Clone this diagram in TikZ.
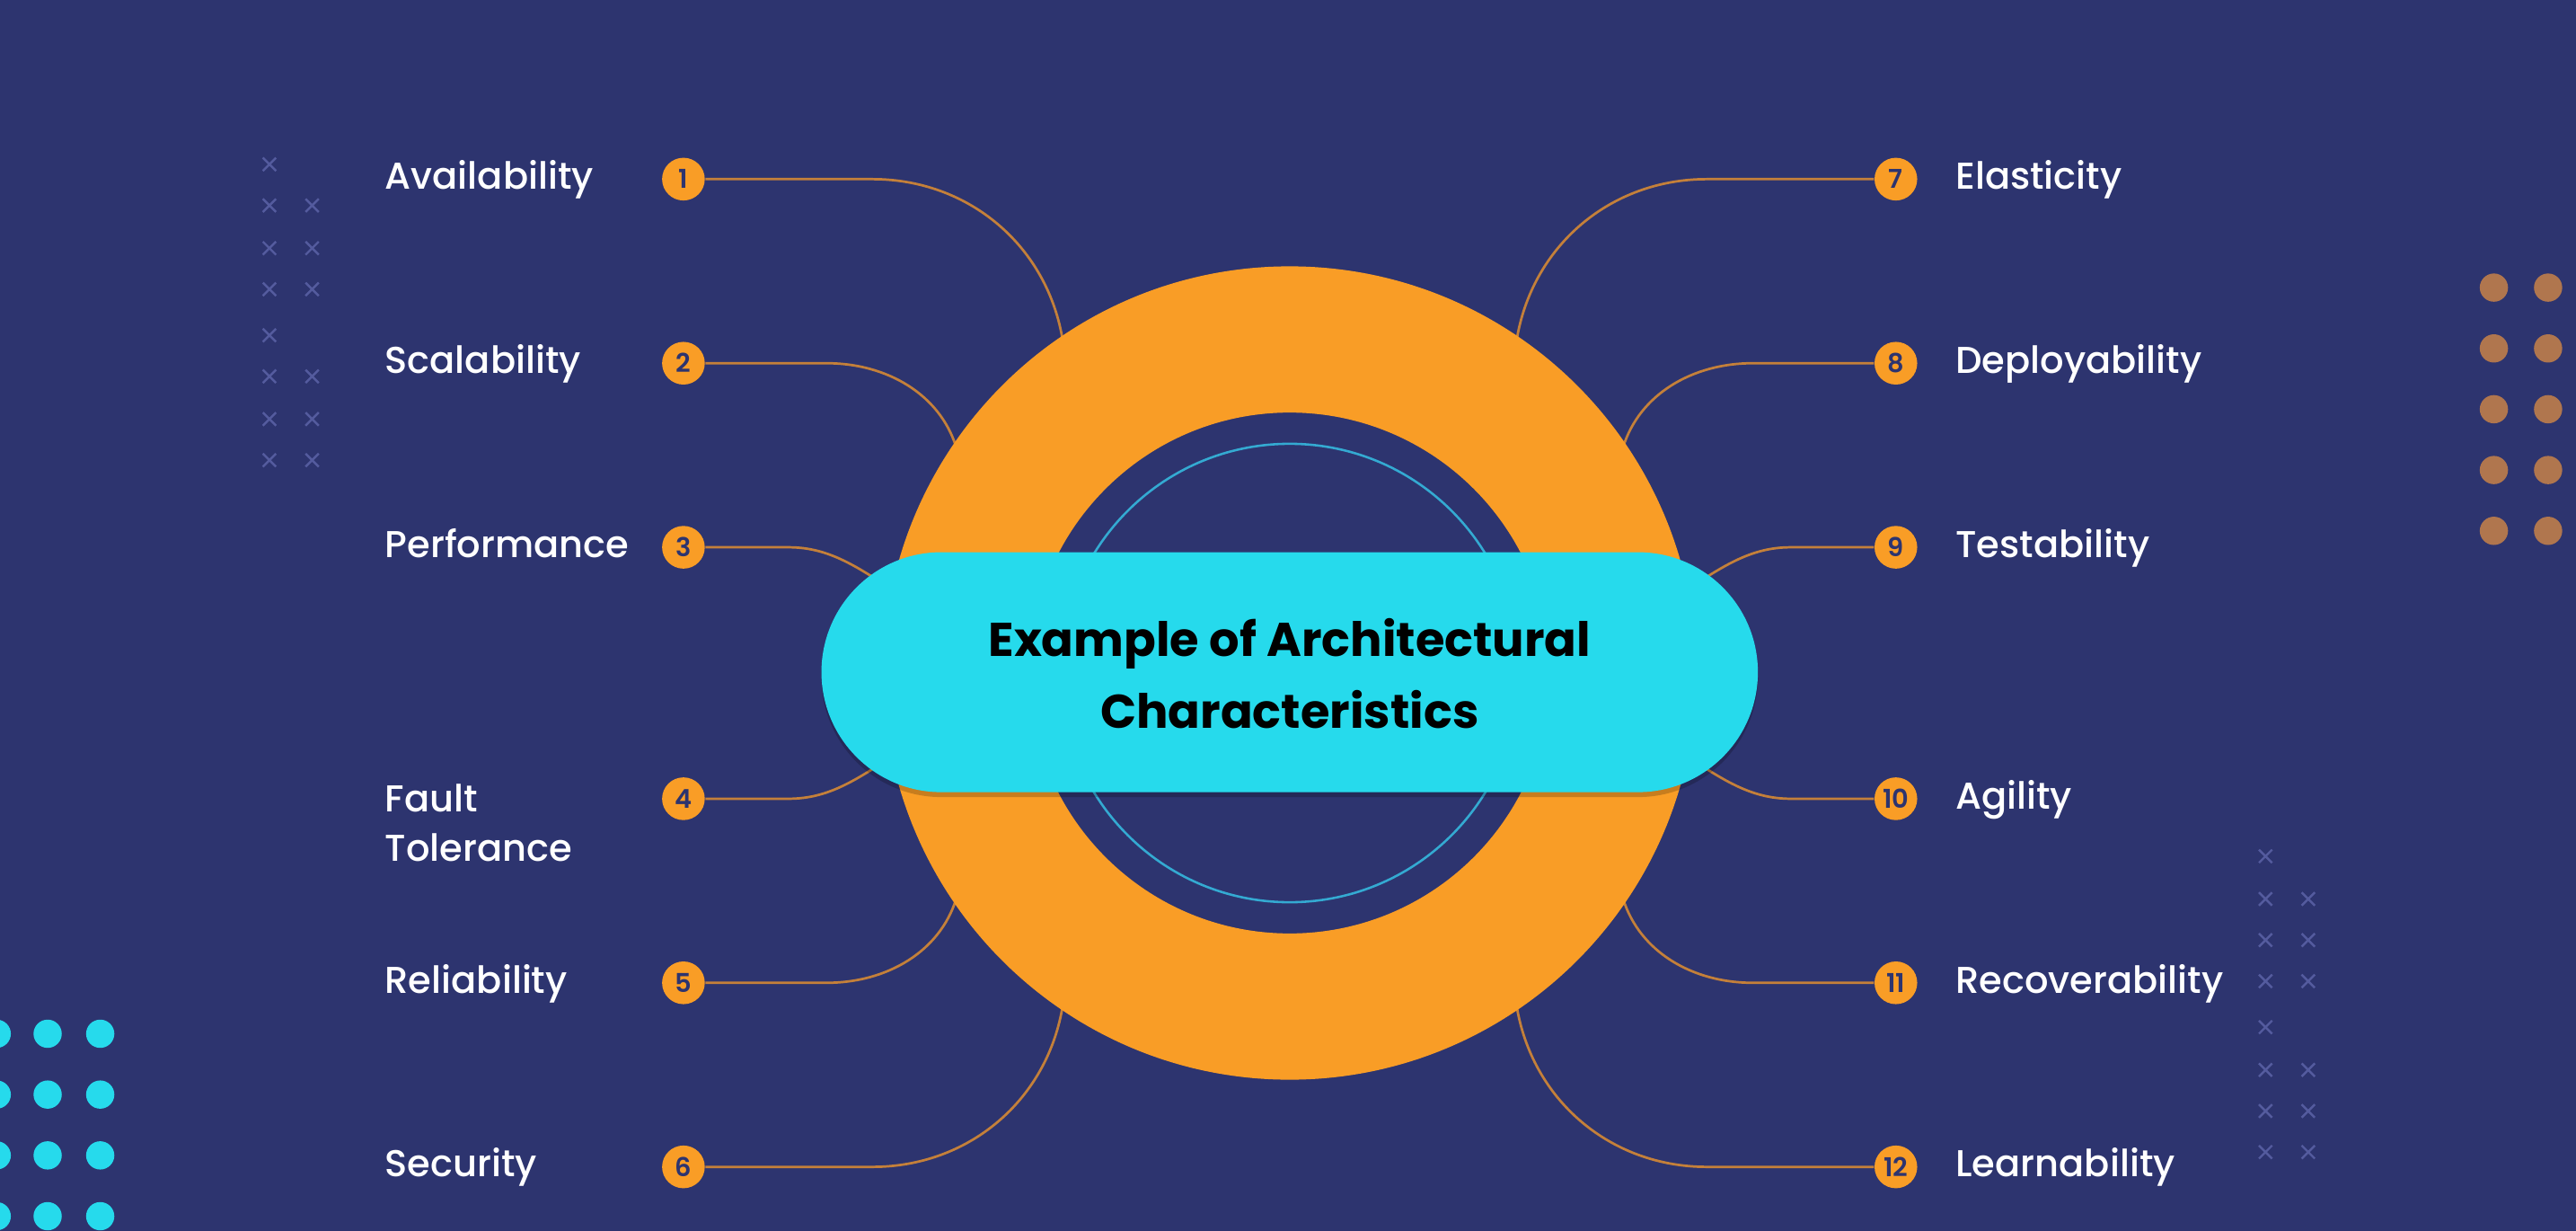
\documentclass[tikz,border=0pt]{standalone}
\usepackage{fontspec}
\setmainfont{Poppins}
\newfontfamily\labelfont{Poppins Medium}
\newfontfamily\numfont{Poppins SemiBold}
\definecolor{bgnavy}{RGB}{45,52,111}
\definecolor{ringorange}{RGB}{249,157,38}
\definecolor{pillcyan}{RGB}{38,218,236}
\definecolor{thinring}{RGB}{52,170,210}
\definecolor{conncol}{RGB}{196,128,58}
\definecolor{dotbrown}{RGB}{176,118,78}
\definecolor{crosscol}{RGB}{84,91,158}
\begin{document}
\begin{tikzpicture}[x=0.02cm,y=-0.02cm,
  badge/.style={circle,fill=ringorange,minimum size=0.52cm,inner sep=0pt,
    text=bgnavy,font=\numfont\fontsize{9}{9}\selectfont},
  lblbase/.style={text=white,inner sep=0pt,font=\labelfont\fontsize{12.95}{17}\selectfont},
  lbl/.style={lblbase,text height=0.7em,text depth=0pt},
  conn/.style={draw=conncol,line width=0.85pt},
  cross/.pic={\draw[crosscol,line width=0.75pt] (-4,-4)--(4,4) (-4,4)--(4,-4);}]

% canvas
\fill[bgnavy] (0,0) rectangle (1568,749);
\useasboundingbox (0,0) rectangle (1568,749);

% background ornaments
\foreach \y in {100,125,151,176,204,229,255,280} \pic at (164,\y) {cross};
\foreach \y in {125,151,176,229,255,280} \pic at (190,\y) {cross};
\foreach \y in {521,547,572,597,625,651,676,701} \pic at (1379,\y) {cross};
\foreach \y in {547,572,597,651,676,701} \pic at (1405,\y) {cross};
\foreach \x in {1518,1551} \foreach \y in {175,212,249,286,323}
  \fill[dotbrown] (\x,\y) circle[radius=0.172cm];
\foreach \x in {-2,29,61} \foreach \y in {629,666,703,740}
  \fill[pillcyan] (\x,\y) circle[radius=0.172cm];

% numbered badges
\node[badge] (b1) at (416,109) {1};
\node[badge] (b2) at (416,221) {2};
\node[badge] (b3) at (416,333) {3};
\node[badge] (b4) at (416,486) {4};
\node[badge] (b5) at (416,598) {5};
\node[badge] (b6) at (416,710) {6};
\node[badge] (b7) at (1154,109) {7};
\node[badge] (b8) at (1154,221) {8};
\node[badge] (b9) at (1154,333) {9};
\node[badge] (b10) at (1154,486) {10};
\node[badge] (b11) at (1154,598) {11};
\node[badge] (b12) at (1154,710) {12};

% connector end points on the ring
\coordinate (r1) at (647,208);
\coordinate (r2) at (582,272);
\coordinate (r3) at (548,362);
\coordinate (r4) at (548,457);
\coordinate (r5) at (582,547);
\coordinate (r6) at (647,611);
\coordinate (r7) at (923,208);
\coordinate (r8) at (988,272);
\coordinate (r9) at (1022,362);
\coordinate (r10) at (1022,457);
\coordinate (r11) at (988,547);
\coordinate (r12) at (923,611);

% connectors
\draw[conn] (b1.east) -- (531,109) .. controls (590,109) and (638,150) .. (r1);
\draw[conn] (b2.east) -- (503,221) .. controls (540,221) and (572,240) .. (r2);
\draw[conn] (b3.east) -- (480,333) .. controls (505,333) and (522,345) .. (r3);
\draw[conn] (b4.east) -- (480,486) .. controls (505,486) and (522,474) .. (r4);
\draw[conn] (b5.east) -- (503,598) .. controls (540,598) and (572,579) .. (r5);
\draw[conn] (b6.east) -- (531,710) .. controls (590,710) and (638,669) .. (r6);
\draw[conn] (b7.west) -- (1039,109) .. controls (980,109) and (932,150) .. (r7);
\draw[conn] (b8.west) -- (1067,221) .. controls (1030,221) and (998,240) .. (r8);
\draw[conn] (b9.west) -- (1090,333) .. controls (1065,333) and (1048,345) .. (r9);
\draw[conn] (b10.west) -- (1090,486) .. controls (1065,486) and (1048,474) .. (r10);
\draw[conn] (b11.west) -- (1067,598) .. controls (1030,598) and (998,579) .. (r11);
\draw[conn] (b12.west) -- (1039,710) .. controls (980,710) and (932,669) .. (r12);

% central ring
\coordinate (c) at (785,409.5);
\fill[ringorange,even odd rule] (c) circle[radius=4.95cm] (c) circle[radius=3.17cm];
\draw[thinring,line width=0.8pt] (c) circle[radius=2.79cm];

% title pill with a soft drop shadow
\fill[black,opacity=0.2,rounded corners=1.46cm] (500,339) rectangle (1070,485);
\fill[pillcyan,rounded corners=1.46cm] (500,336) rectangle (1070,482);
\node[align=center,text=black,font=\bfseries\fontsize{16.4}{25}\selectfont] (title) at (785,410)
  {Example of Architectural\\Characteristics};

% labels
\node[lbl,anchor=west] (l1) at (234,109) {Availability};
\node[lbl,anchor=west] (l2) at (234,221) {Scalability};
\node[lbl,anchor=west] (l3) at (234,333) {Performance};
\node[lblbase,align=left,anchor=north west] (l4) at (234,477) {Fault\\Tolerance};
\node[lbl,anchor=west] (l5) at (234,598) {Reliability};
\node[lbl,anchor=west] (l6) at (234,710) {Security};
\node[lbl,anchor=west] (l7) at (1190,109) {Elasticity};
\node[lbl,anchor=west] (l8) at (1190,221) {Deployability};
\node[lbl,anchor=west] (l9) at (1190,333) {Testability};
\node[lbl,anchor=west] (l10) at (1190,486) {Agility};
\node[lbl,anchor=west] (l11) at (1190,598) {Recoverability};
\node[lbl,anchor=west] (l12) at (1190,710) {Learnability};
\end{tikzpicture}
\end{document}
